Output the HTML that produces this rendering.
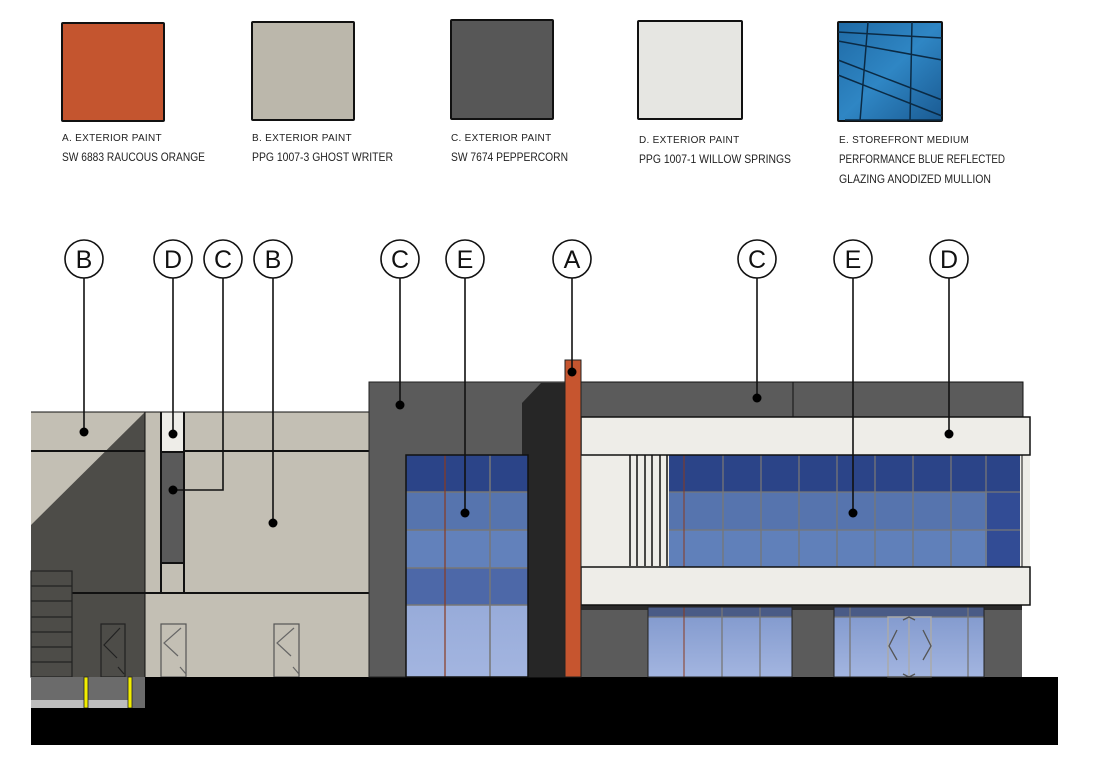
<!DOCTYPE html>
<html><head><meta charset="utf-8">
<style>
html,body{margin:0;padding:0;background:#fff;}
svg{display:block;}
text{font-family:"Liberation Sans",sans-serif;}
</style></head>
<body>
<svg width="1097" height="783" viewBox="0 0 1097 783" xmlns="http://www.w3.org/2000/svg">
<defs>
<linearGradient id="gl" x1="0" y1="0" x2="0" y2="1">
<stop offset="0" stop-color="#7f97cc"/><stop offset="1" stop-color="#a3b5e0"/>
</linearGradient>
<linearGradient id="sw" x1="0" y1="0" x2="1" y2="1">
<stop offset="0" stop-color="#1f6aa5"/><stop offset="0.5" stop-color="#2f86c4"/><stop offset="1" stop-color="#1a5a92"/>
</linearGradient>
</defs>

<rect x="62" y="23" width="102" height="98" fill="#c4552f" stroke="#111" stroke-width="2" rx="1"/>
<rect x="252" y="22" width="102" height="98" fill="#bbb7ab" stroke="#111" stroke-width="2" rx="1"/>
<rect x="451" y="20" width="102" height="99" fill="#575757" stroke="#111" stroke-width="2" rx="1"/>
<rect x="638" y="21" width="104" height="98" fill="#e6e6e2" stroke="#111" stroke-width="2" rx="1"/>
<rect x="838" y="22" width="104" height="99" fill="url(#sw)" stroke="#111" stroke-width="2" rx="1"/>
<g stroke="#0b2a44" stroke-width="1.5" fill="none">
<path d="M838 60 L942 100 M838 75 L942 116 M838 41 L942 60 M838 32 L942 38 M845 120 L942 120 M868 22 L860 121 M912 22 L910 121"/>
</g>
<g font-size="10" fill="#222" letter-spacing="0.3">
<text x="62" y="141">A. EXTERIOR PAINT</text>
<text x="252" y="141">B. EXTERIOR PAINT</text>
<text x="451" y="141">C. EXTERIOR PAINT</text>
<text x="639" y="143">D. EXTERIOR PAINT</text>
<text x="839" y="143">E. STOREFRONT MEDIUM</text>
</g>
<g font-size="12" fill="#222">
<text x="62" y="161" textLength="143" lengthAdjust="spacingAndGlyphs">SW 6883 RAUCOUS ORANGE</text>
<text x="252" y="161" textLength="141" lengthAdjust="spacingAndGlyphs">PPG 1007-3 GHOST WRITER</text>
<text x="451" y="161" textLength="117" lengthAdjust="spacingAndGlyphs">SW 7674 PEPPERCORN</text>
<text x="639" y="163" textLength="152" lengthAdjust="spacingAndGlyphs">PPG 1007-1 WILLOW SPRINGS</text>
<text x="839" y="163" textLength="166" lengthAdjust="spacingAndGlyphs">PERFORMANCE BLUE REFLECTED</text>
<text x="839" y="183" textLength="152" lengthAdjust="spacingAndGlyphs">GLAZING ANODIZED MULLION</text>
</g>

<rect x="31" y="412" width="338" height="265" fill="#c3bfb4"/>
<polygon points="31,525 145,412 145,677 31,677" fill="#4d4c48"/>
<rect x="31" y="593" width="114" height="84" fill="#4d4c48"/>
<rect x="145" y="412" width="16" height="181" fill="#c3bfb4"/>
<rect x="161" y="412" width="23" height="39" fill="#eeede8"/>
<rect x="161" y="453" width="23" height="109" fill="#5a5a5a"/>
<g stroke="#111" stroke-width="2" fill="none">
<line x1="31" y1="412" x2="369" y2="412" stroke-width="1"/>
<line x1="31" y1="451" x2="145" y2="451"/>
<line x1="184" y1="451" x2="369" y2="451"/>
<line x1="72" y1="593" x2="369" y2="593"/>
<line x1="161" y1="412" x2="161" y2="593"/>
<line x1="184" y1="412" x2="184" y2="593"/>
<rect x="161" y="452" width="23" height="111"/>
<line x1="145" y1="412" x2="145" y2="677" stroke-width="1"/>
</g>
<g stroke="#222" stroke-width="1.2" fill="none">
<rect x="31" y="571" width="41" height="106"/>
<line x1="31" y1="586" x2="72" y2="586"/><line x1="31" y1="601" x2="72" y2="601"/>
<line x1="31" y1="617" x2="72" y2="617"/><line x1="31" y1="632" x2="72" y2="632"/>
<line x1="31" y1="647" x2="72" y2="647"/><line x1="31" y1="662" x2="72" y2="662"/>
<rect x="101" y="624" width="24" height="53"/>
<rect x="161" y="624" width="25" height="53" stroke="#555"/>
<rect x="274" y="624" width="25" height="53" stroke="#555"/>
<path d="M120 628 L104 645 L117 658 M118 667 L124 674"/>
<path d="M181 628 L164 643 L178 656 M180 667 L186 674" stroke="#666"/>
<path d="M294 628 L277 643 L291 656 M293 667 L299 674" stroke="#666"/>
</g>
<rect x="31" y="677" width="114" height="31" fill="#6b6b6b"/>
<rect x="31" y="700" width="100" height="8" fill="#bdbdbd"/>
<rect x="84" y="677" width="4" height="31" fill="#f2ee00" stroke="#222" stroke-width="0.8"/>
<rect x="128" y="677" width="4" height="31" fill="#f2ee00" stroke="#222" stroke-width="0.8"/>
<rect x="31" y="708" width="114" height="37" fill="#000"/>
<rect x="145" y="677" width="913" height="68" fill="#000"/>

<rect x="369" y="382" width="212" height="295" fill="#5b5b5b" stroke="#222" stroke-width="1"/>
<polygon points="522,403 541,383 566,383 566,677 522,677" fill="#262626"/>
<rect x="406" y="455" width="122" height="222" fill="url(#gl)"/>
<rect x="406" y="455" width="122" height="37" fill="#2b4488"/>
<rect x="406" y="492" width="122" height="38" fill="#5674ae"/>
<rect x="406" y="530" width="122" height="38" fill="#6281bb"/>
<rect x="406" y="568" width="122" height="37" fill="#4d68a8"/>
<g stroke="#777" stroke-width="1.5">
<line x1="406" y1="492" x2="528" y2="492"/><line x1="406" y1="530" x2="528" y2="530"/>
<line x1="406" y1="568" x2="528" y2="568"/><line x1="406" y1="605" x2="528" y2="605"/>
<line x1="490" y1="455" x2="490" y2="677"/>
</g>
<line x1="445" y1="455" x2="445" y2="677" stroke="#8a3a20" stroke-width="1.2"/>
<rect x="406" y="455" width="122" height="222" fill="none" stroke="#111" stroke-width="1.5"/>

<rect x="581" y="382" width="442" height="35" fill="#5b5b5b" stroke="#111" stroke-width="1"/>
<line x1="793" y1="382" x2="793" y2="417" stroke="#111" stroke-width="1"/>
<rect x="581" y="605" width="441" height="72" fill="#5b5b5b"/>
<rect x="581" y="605" width="441" height="5" fill="#2a2a2a"/>
<rect x="581" y="453" width="449" height="114" fill="#eeede8"/>
<g stroke="#111" stroke-width="1.5">
<line x1="630" y1="455" x2="630" y2="566"/><line x1="637" y1="455" x2="637" y2="566"/>
<line x1="645" y1="455" x2="645" y2="566"/><line x1="652" y1="455" x2="652" y2="566"/>
<line x1="660" y1="455" x2="660" y2="566"/><line x1="667" y1="455" x2="667" y2="566"/>
</g>
<rect x="669" y="455" width="351" height="37" fill="#2b4488"/>
<rect x="669" y="492" width="351" height="38" fill="#5674ae"/>
<rect x="669" y="530" width="351" height="37" fill="#6080ba"/>
<rect x="987" y="492" width="33" height="75" fill="#324c95"/>
<g stroke="#777" stroke-width="1.3">
<line x1="669" y1="492" x2="1020" y2="492"/><line x1="669" y1="530" x2="1020" y2="530"/>
<line x1="723" y1="455" x2="723" y2="567"/><line x1="761" y1="455" x2="761" y2="567"/>
<line x1="799" y1="455" x2="799" y2="567"/><line x1="837" y1="455" x2="837" y2="567"/>
<line x1="875" y1="455" x2="875" y2="567"/><line x1="913" y1="455" x2="913" y2="567"/>
<line x1="951" y1="455" x2="951" y2="567"/><line x1="986" y1="455" x2="986" y2="567"/>
</g>
<line x1="684" y1="455" x2="684" y2="567" stroke="#8a3a20" stroke-width="1"/>
<line x1="1022" y1="455" x2="1022" y2="567" stroke="#111" stroke-width="1"/>
<rect x="581" y="417" width="449" height="38" fill="#eeede8" stroke="#111" stroke-width="1.5"/>
<rect x="581" y="567" width="449" height="38" fill="#eeede8" stroke="#111" stroke-width="1.5"/>
<rect x="648" y="607" width="144" height="70" fill="url(#gl)"/>
<rect x="834" y="607" width="150" height="70" fill="url(#gl)"/>
<rect x="648" y="607" width="144" height="10" fill="#4a5b86"/>
<rect x="834" y="607" width="150" height="10" fill="#4a5b86"/>
<g stroke="#777" stroke-width="1.3" fill="none">
<line x1="648" y1="617" x2="792" y2="617"/><line x1="834" y1="617" x2="984" y2="617"/>
<line x1="722" y1="607" x2="722" y2="677"/><line x1="760" y1="607" x2="760" y2="677"/>
<line x1="850" y1="607" x2="850" y2="677"/><line x1="968" y1="607" x2="968" y2="677"/>
<rect x="888" y="617" width="43" height="60" stroke="#aaa" stroke-width="1.5"/>
<line x1="909" y1="617" x2="909" y2="677" stroke="#aaa"/>
<path d="M897 630 L889 646 L897 660 M923 630 L931 646 L923 660 M903 620 L909 617 L915 620 M903 674 L909 677 L915 674" stroke="#555"/>
</g>
<line x1="684" y1="607" x2="684" y2="677" stroke="#8a3a20" stroke-width="1"/>
<rect x="648" y="607" width="144" height="70" fill="none" stroke="#222" stroke-width="1"/>
<rect x="834" y="607" width="150" height="70" fill="none" stroke="#222" stroke-width="1"/>

<rect x="565" y="360" width="16" height="317" fill="#c6552f" stroke="#222" stroke-width="1"/>

<g stroke="#111" stroke-width="1.6" fill="none">
<line x1="84" y1="278" x2="84" y2="432"/>
<line x1="173" y1="278" x2="173" y2="434"/>
<polyline points="223,278 223,490 173,490"/>
<line x1="273" y1="278" x2="273" y2="523"/>
<line x1="400" y1="278" x2="400" y2="405"/>
<line x1="465" y1="278" x2="465" y2="513"/>
<line x1="572" y1="278" x2="572" y2="372"/>
<line x1="757" y1="278" x2="757" y2="398"/>
<line x1="853" y1="278" x2="853" y2="513"/>
<line x1="949" y1="278" x2="949" y2="434"/>
</g>
<g fill="#000">
<circle cx="84" cy="432" r="4.5"/><circle cx="173" cy="434" r="4.5"/><circle cx="173" cy="490" r="4.5"/>
<circle cx="273" cy="523" r="4.5"/><circle cx="400" cy="405" r="4.5"/><circle cx="465" cy="513" r="4.5"/>
<circle cx="572" cy="372" r="4.5"/><circle cx="757" cy="398" r="4.5"/><circle cx="853" cy="513" r="4.5"/>
<circle cx="949" cy="434" r="4.5"/>
</g>
<g fill="#fff" stroke="#111" stroke-width="1.6">
<circle cx="84" cy="259" r="19"/><circle cx="173" cy="259" r="19"/><circle cx="223" cy="259" r="19"/>
<circle cx="273" cy="259" r="19"/><circle cx="400" cy="259" r="19"/><circle cx="465" cy="259" r="19"/>
<circle cx="572" cy="259" r="19"/><circle cx="757" cy="259" r="19"/><circle cx="853" cy="259" r="19"/>
<circle cx="949" cy="259" r="19"/>
</g>
<g font-size="25" fill="#111" text-anchor="middle">
<text x="84" y="268">B</text><text x="173" y="268">D</text><text x="223" y="268">C</text>
<text x="273" y="268">B</text><text x="400" y="268">C</text><text x="465" y="268">E</text>
<text x="572" y="268">A</text><text x="757" y="268">C</text><text x="853" y="268">E</text>
<text x="949" y="268">D</text>
</g>
</svg>
</body></html>
